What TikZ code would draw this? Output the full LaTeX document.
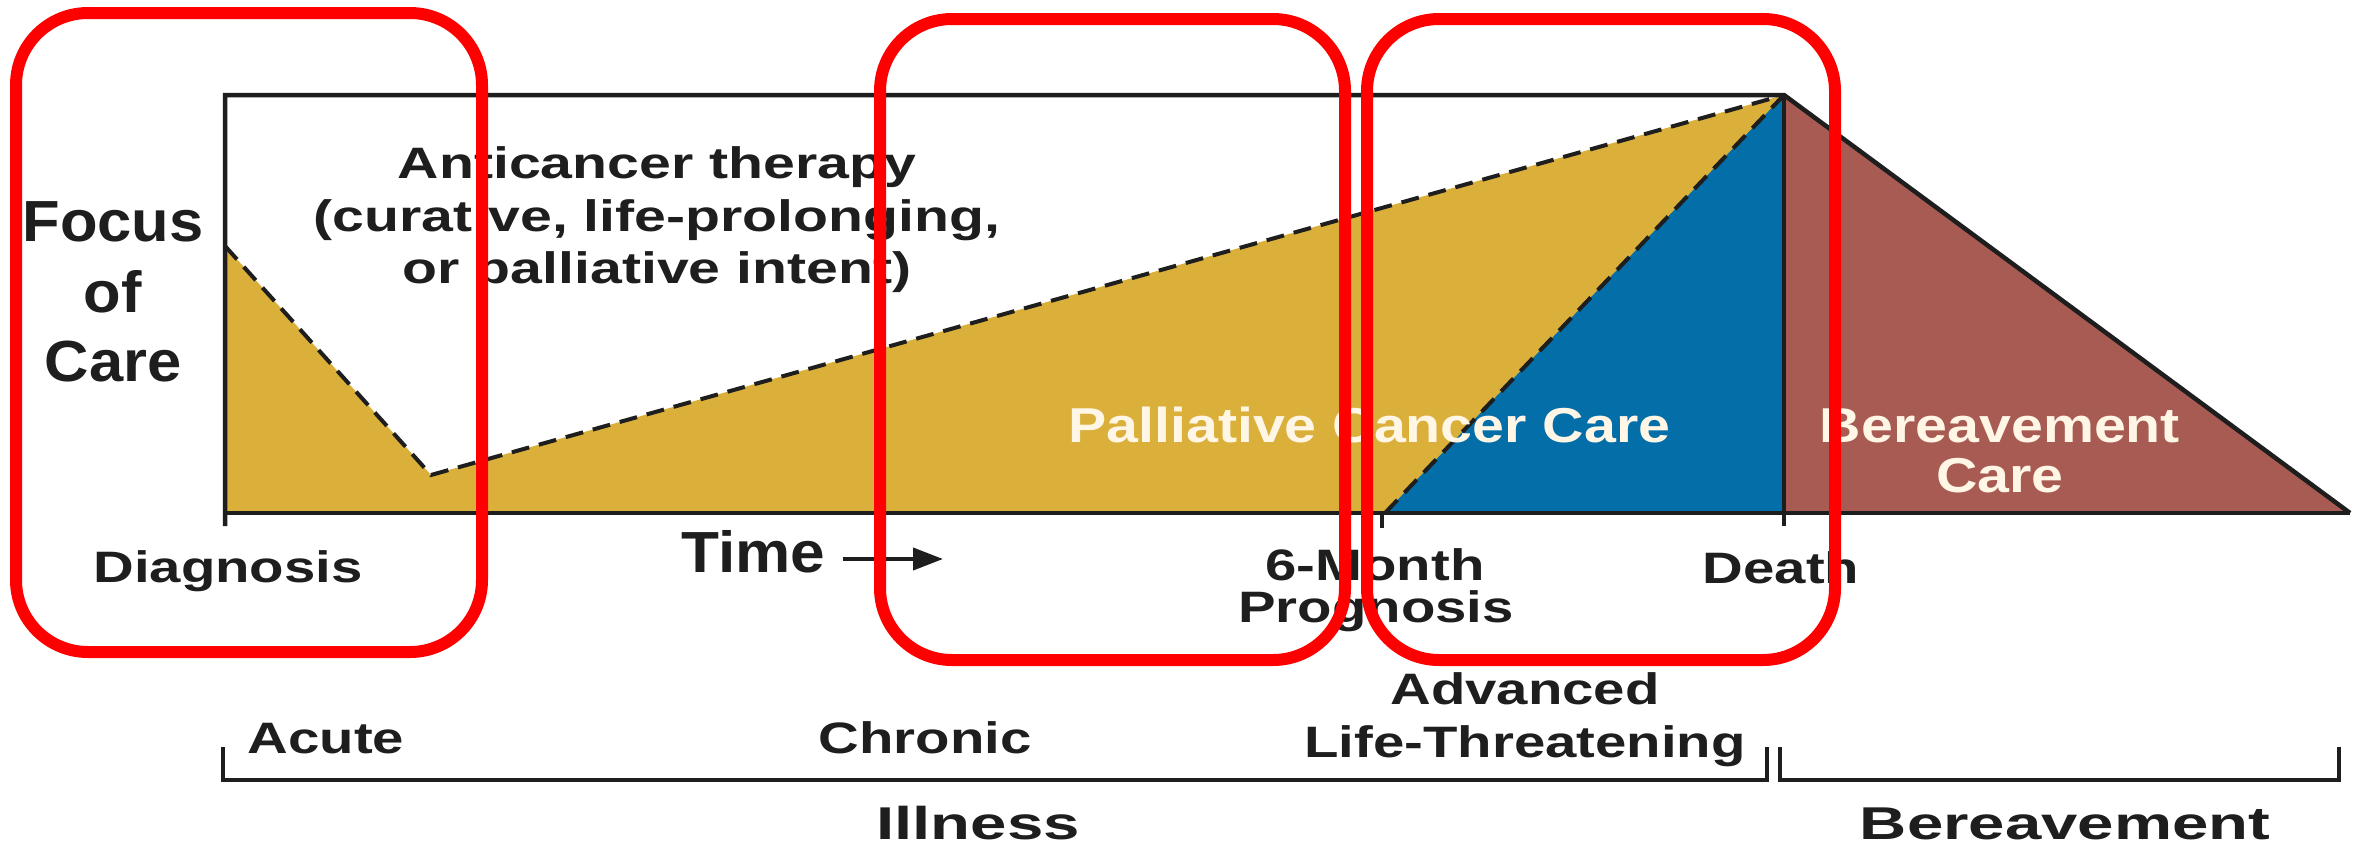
\documentclass[tikz,border=0pt]{standalone}
\usepackage{fontspec}
\setmainfont{Liberation Sans}
\usepackage{graphicx}
\usetikzlibrary{arrows.meta}

\definecolor{gold}{HTML}{DAB03A}
\definecolor{careblue}{HTML}{046EA8}
\definecolor{grief}{HTML}{A85B53}
\definecolor{ink}{HTML}{1E1E1E}
\definecolor{cream}{HTML}{FFF6E6}
\definecolor{hired}{HTML}{FF0000}

% horizontal stretch of a label
\newcommand{\sx}[2]{\scalebox{#1}[1]{#2}}

\begin{document}
\begin{tikzpicture}[x=1pt,y=-1pt,
  frame/.style={draw=ink, line width=4.5pt, line join=miter},
  dashline/.style={draw=ink, line width=4pt, dash pattern=on 18pt off 10pt},
  brk/.style={draw=ink, line width=3.5pt},
  hilite/.style={draw=hired, line width=12pt, rounded corners=72pt},
  lbl/.style={inner sep=0pt, text=ink, font=\fontsize{44}{50}\selectfont\bfseries},
  biglbl/.style={inner sep=0pt, text=ink, font=\fontsize{58}{66}\selectfont\bfseries},
  axlbl/.style={inner sep=0pt, text depth=0pt, text=ink, font=\fontsize{46}{52}\selectfont\bfseries},
  inlbl/.style={inner sep=0pt, text=cream, font=\fontsize{49}{56}\selectfont\bfseries},
  timearrow/.style={draw=ink, line width=4pt, -{Triangle[length=30pt,width=22pt]}}
]
\useasboundingbox (0,0) rectangle (2366,846);
\fill[white] (0,0) rectangle (2366,846);

% key points of the chart
\coordinate (tl) at (225,95);
\coordinate (start) at (225,246);
\coordinate (dip) at (431,475);
\coordinate (peak) at (1784,95);
\coordinate (bl) at (225,513);
\coordinate (dbase) at (1784,513);
\coordinate (six) at (1385,513);
\coordinate (bend) at (2350,513);

% filled areas
\fill[gold] (start) -- (dip) -- (peak) -- (dbase) -- (bl) -- cycle;
\fill[careblue] (six) -- (peak) -- (dbase) -- cycle;
\fill[grief] (peak) -- (bend) -- (dbase) -- cycle;

% dashed boundaries
\draw[dashline] (start) -- (dip) -- (peak);
\draw[dashline] (six) -- (peak);

% axes and outlines
\draw[frame] (225,526) -- (tl) -- (peak) -- (bend);
\draw[frame] (bl) -- (bend);
\draw[frame] (peak) -- (1784,526);
\draw[frame] (1382,513) -- (1382,528);

% texts inside the chart
\node[biglbl, anchor=base] (focusA) at (113,241) {\sx{1.06}{Focus}};
\node[biglbl, anchor=base] (focusB) at (113,312) {\sx{1.06}{of}};
\node[biglbl, anchor=base] (focusC) at (113,381) {\sx{1.06}{Care}};

\node[lbl, anchor=base] (anti1) at (657,178) {\sx{1.3}{Anticancer therapy}};
\node[lbl, anchor=base] (anti2) at (657,231) {\sx{1.3}{(curative, life-prolonging,}};
\node[lbl, anchor=base] (anti3) at (657,283) {\sx{1.3}{or palliative intent)}};

\node[inlbl, anchor=base west] (palliative) at (1068,442) {\sx{1.17}{Palliative Cancer Care}};
\node[inlbl, anchor=base] (grief1) at (2000,442) {\sx{1.17}{Bereavement}};
\node[inlbl, anchor=base] (grief2) at (2000,492) {\sx{1.17}{Care}};

% time axis labels
\node[lbl, anchor=base] (diagnosis) at (228,582) {\sx{1.28}{Diagnosis}};
\node[biglbl, anchor=base west] (time) at (681,572) {\sx{1.07}{Time}};
\coordinate (arrowA) at (843,559);
\coordinate (arrowB) at (943,559);
\draw[timearrow] (arrowA) -- (arrowB);
\node[lbl, anchor=base] (month6) at (1375,580) {\sx{1.28}{6-Month}};
\node[lbl, anchor=base] (prognosis) at (1376,622) {\sx{1.28}{Prognosis}};
\node[lbl, anchor=base] (death) at (1781,583) {\sx{1.28}{Death}};

% phases
\node[lbl, anchor=base] (acute) at (326,753) {\sx{1.28}{Acute}};
\node[lbl, anchor=base] (chronic) at (925,753) {\sx{1.28}{Chronic}};
\node[lbl, anchor=base] (advanced) at (1525,704) {\sx{1.28}{Advanced}};
\node[lbl, anchor=base] (lifethreat) at (1525,757) {\sx{1.28}{Life-Threatening}};

% brackets
\draw[brk] (223,747) -- (223,780) -- (1767,780) -- (1767,747);
\draw[brk] (1780,747) -- (1780,780) -- (2339,780) -- (2339,747);
\node[axlbl, anchor=base] (illness) at (978,839) {\sx{1.42}{Illness}};
\node[axlbl, anchor=base] (bereave) at (2065,839) {\sx{1.42}{Bereavement}};

% red highlight frames
\draw[hilite] (16,13) rectangle (482,652);
\draw[hilite] (880,19) rectangle (1345,660);
\draw[hilite] (1367,19) rectangle (1835,660);
\end{tikzpicture}
\end{document}
